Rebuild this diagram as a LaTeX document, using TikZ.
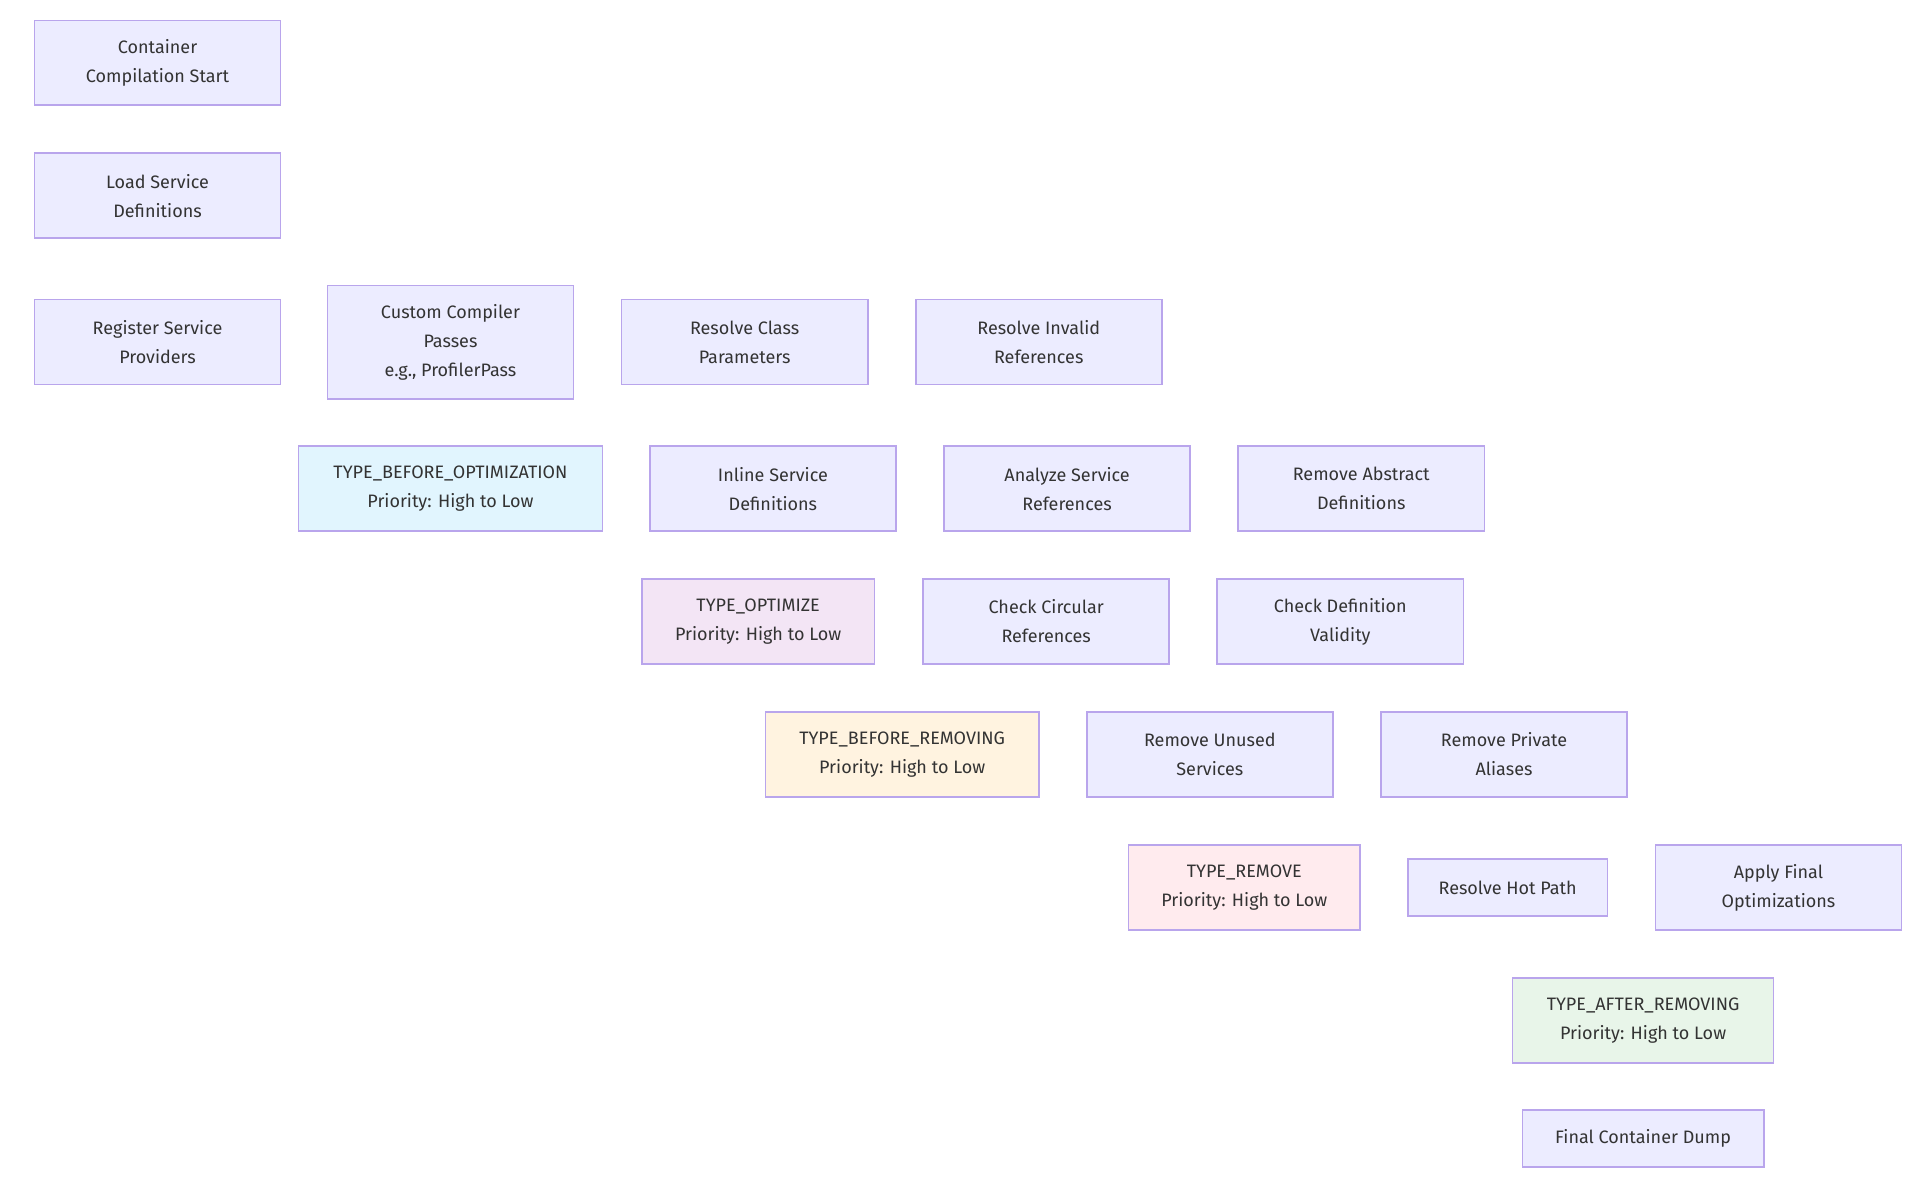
\documentclass[tikz,border=0pt]{standalone}
\usepackage{fontspec}
\setmainfont{Fira Sans}
\usetikzlibrary{arrows.meta,backgrounds}
\definecolor{bx}{HTML}{ECECFF}
\definecolor{bd}{HTML}{B9A5EC}
\definecolor{c1}{HTML}{E1F5FE}
\definecolor{c2}{HTML}{F3E5F5}
\definecolor{c3}{HTML}{FFF3E0}
\definecolor{c4}{HTML}{FFEBEE}
\definecolor{c5}{HTML}{E8F5E9}
\definecolor{tx}{HTML}{333333}
\begin{document}
\begin{tikzpicture}[x=0.6154pt,y=-0.6154pt,
  box/.style={draw=bd,line width=0.8pt,fill=bx,text=tx,align=center,inner sep=0pt,
    minimum width=#1*0.6154pt,minimum height=69*0.6154pt,font=\fontsize{9}{14.5}\selectfont},
  box/.default=200,
  ed/.style={draw=tx,line width=0.6pt,-{Stealth[length=4pt,width=3.5pt]}}]
\useasboundingbox (0,0) rectangle (1560,960);
\fill[white] (0,0) rectangle (1560,960);
\node[box] (A) at (128,51) {Container\\Compilation Start};
\node[box] (B) at (128,159) {Load Service\\Definitions};
\node[box] (C) at (128,278) {Register Service\\Providers};
\node[box,minimum height=92*0.6154pt] (D) at (366,278) {Custom Compiler\\Passes\\e.g., ProfilerPass};
\node[box] (E) at (605,278) {Resolve Class\\Parameters};
\node[box] (F) at (844,278) {Resolve Invalid\\References};
\node[box=247,fill=c1] (T1) at (366,397) {TYPE\_BEFORE\_OPTIMIZATION\\Priority: High to Low};
\node[box] (G) at (628,397) {Inline Service\\Definitions};
\node[box] (H) at (867,397) {Analyze Service\\References};
\node[box] (I) at (1106,397) {Remove Abstract\\Definitions};
\node[box=189,fill=c2] (T2) at (616,505) {TYPE\_OPTIMIZE\\Priority: High to Low};
\node[box] (J) at (850,505) {Check Circular\\References};
\node[box] (K) at (1089,505) {Check Definition\\Validity};
\node[box=222,fill=c3] (T3) at (733,613) {TYPE\_BEFORE\_REMOVING\\Priority: High to Low};
\node[box] (L) at (983,613) {Remove Unused\\Services};
\node[box] (M) at (1222,613) {Remove Private\\Aliases};
\node[box=188,fill=c4] (T4) at (1011,721) {TYPE\_REMOVE\\Priority: High to Low};
\node[box=162,minimum height=46*0.6154pt] (N) at (1225,721) {Resolve Hot Path};
\node[box] (O) at (1445,721) {Apply Final\\Optimizations};
\node[box=212,fill=c5] (T5) at (1335,829) {TYPE\_AFTER\_REMOVING\\Priority: High to Low};
\node[box=196,minimum height=46*0.6154pt] (P) at (1335,925) {Final Container Dump};
\begin{scope}[on background layer]
\path[ed] (A) -- (B);
\path[ed] (B) -- (C);
\path[ed] (C.south) .. controls (128,345) and (180,352) .. (T1.west|-0,369);
\path[ed] (D) -- (T1);
\path[ed] (E.south) .. controls (605,345) and (540,358) .. (T1.east|-0,369);
\path[ed] (F.south) .. controls (844,345) and (720,355) .. (T1.east|-0,383);
\path[ed] (T1.south) .. controls (366,460) and (450,470) .. (T2.west|-0,484);
\path[ed] (G.south) .. controls (628,455) and (626,450) .. (T2.north-|626,0);
\path[ed] (H.south) .. controls (867,460) and (770,470) .. (T2.east|-0,484);
\path[ed] (I.south) .. controls (1106,460) and (780,470) .. (T2.east|-0,494);
\path[ed] (T2.south) .. controls (616,565) and (640,570) .. (T3.north-|658,0);
\path[ed] (J.south) .. controls (850,565) and (830,570) .. (T3.north-|810,0);
\path[ed] (K.south) .. controls (1089,570) and (900,580) .. (T3.east|-0,596);
\path[ed] (T3.south) .. controls (733,680) and (840,690) .. (T4.west|-0,702);
\path[ed] (L.south) .. controls (983,675) and (990,670) .. (T4.north-|992,0);
\path[ed] (M.south) .. controls (1222,680) and (1150,688) .. (T4.east|-0,697);
\path[ed] (T4.south) .. controls (1011,790) and (1150,798) .. (T5.west|-0,810);
\path[ed] (N.south) .. controls (1225,775) and (1250,785) .. (T5.north-|1265,0);
\path[ed] (O.south) .. controls (1445,778) and (1420,785) .. (T5.north-|1407,0);
\path[ed] (T5) -- (P);
\end{scope}
\end{tikzpicture}
\end{document}
